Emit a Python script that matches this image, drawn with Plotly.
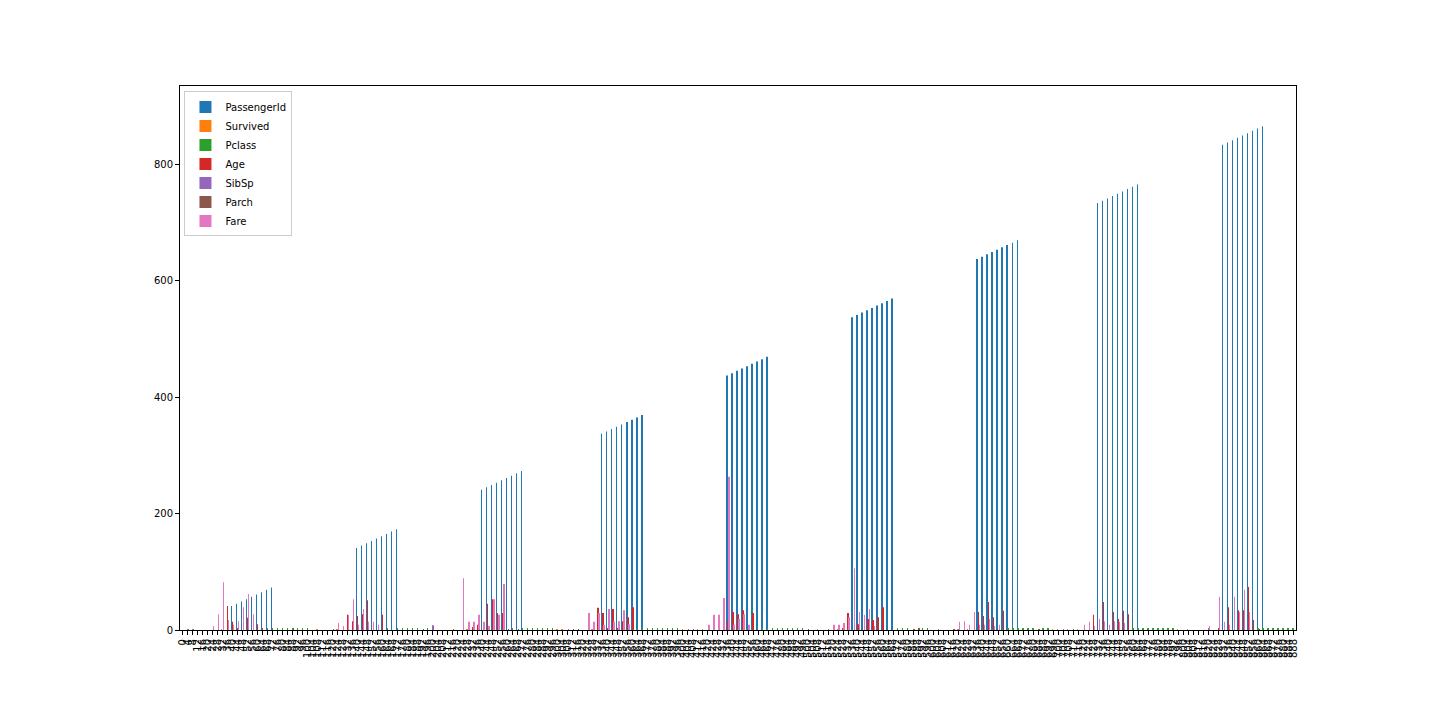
import plotly.graph_objects as go

# index of the plotted rows (every 4th passenger)
index_labels = [str(i) for i in range(0, 889, 4)]

columns = ["PassengerId", "Survived", "Pclass", "Age", "SibSp", "Parch", "Fare"]
colors = ["#1f77b4", "#ff7f0e", "#2ca02c", "#d62728", "#9467bd", "#8c564b", "#e377c2"]

# bars that can be seen in the picture: row position -> value
pid_rows = [10, 11, 12, 13, 14, 15, 16, 17, 18,
            35, 36, 37, 38, 39, 40, 41, 42, 43,
            60, 61, 62, 63, 64, 65, 66, 67, 68,
            84, 85, 86, 87, 88, 89, 90, 91, 92,
            109, 110, 111, 112, 113, 114, 115, 116, 117,
            134, 135, 136, 137, 138, 139, 140, 141, 142,
            159, 160, 161, 162, 163, 164, 165, 166, 167,
            183, 184, 185, 186, 187, 188, 189, 190, 191,
            208, 209, 210, 211, 212, 213, 214, 215, 216]
pid_vals = [41, 45, 49, 53, 57, 61, 65, 69, 73,
            141, 145, 149, 153, 157, 161, 165, 169, 173,
            241, 245, 249, 253, 257, 261, 265, 269, 273,
            337, 341, 345, 349, 353, 357, 361, 365, 369,
            437, 441, 445, 449, 453, 457, 461, 465, 469,
            537, 541, 545, 549, 553, 557, 561, 565, 569,
            637, 641, 645, 649, 653, 657, 661, 665, 669,
            733, 737, 741, 745, 749, 753, 757, 761, 765,
            833, 837, 841, 845, 849, 853, 857, 861, 865]

survived_rows = [8, 27, 31, 57, 75, 76, 82, 100, 103, 104, 127, 131, 155, 157, 174, 175, 177, 179, 199, 201]
survived_vals = [1, 1, 1, 1, 1, 1, 1, 1, 1, 1, 1, 1, 1, 1, 1, 1, 1, 1, 1, 1]

pclass_rows = [17, 18, 19, 20, 21, 22, 23, 24, 25, 41, 43, 44, 45, 46, 47, 49,
               66, 68, 69, 70, 71, 72, 73, 74, 91, 92, 93, 94, 95, 96, 97, 98, 99,
               116, 117, 118, 119, 120, 121, 122, 123, 124, 143, 144, 145, 148, 149, 165, 166, 167,
               168, 169, 170, 172, 173, 190, 191, 192, 193, 194, 195, 196, 197, 198,
               215, 216, 217, 218, 219, 220, 221, 222]
pclass_vals = [3, 3, 3, 3, 2, 3, 3, 3, 2, 3, 3, 3, 3, 3, 3, 3,
               3, 2, 2, 3, 3, 3, 3, 2, 3, 3, 3, 3, 2, 3, 3, 3, 3,
               2, 2, 3, 2, 3, 3, 2, 3, 3, 2, 3, 3, 3, 2, 3, 3, 2,
               2, 3, 2, 2, 3, 3, 3, 2, 2, 3, 3, 3, 3, 3,
               3, 3, 2, 2, 3, 2, 2, 2]

age_rows = [9, 10, 11, 13, 15, 16, 33, 34, 35, 36, 37, 40,
            58, 59, 61, 62, 63, 64, 83, 84, 85, 86, 87, 88, 89, 90,
            109, 110, 111, 112, 114, 132, 133, 135, 137, 138, 139, 140,
            159, 160, 161, 162, 164, 182, 184, 186, 187, 188, 189,
            207, 209, 211, 212, 213, 214]
age_vals = [41, 14, 3, 21, 10, 3, 26, 15, 24, 27, 51, 26,
            5, 9, 45, 53, 29, 29, 38, 29, 2, 36, 3, 15, 22, 39,
            14, 31, 27, 34, 29, 2, 29, 10, 19, 17, 22, 39,
            31, 24, 48, 22, 33, 26, 48, 31, 19, 33, 27,
            2, 39, 34, 34, 74, 17]

sibsp_rows = [1, 2, 50, 77, 81, 101, 102, 106, 129, 151, 155, 176, 178, 205]
sibsp_vals = [1, 1, 8, 1, 8, 1, 1, 1, 1, 1, 1, 1, 1, 2]

parch_rows = [2, 7, 22, 30, 48, 54, 57, 65, 67, 78, 79, 125, 146, 147, 154, 171, 215]
parch_vals = [1, 1, 2, 1, 1, 1, 1, 1, 1, 1, 1, 1, 1, 2, 1, 1, 1]

fare_rows = [6, 7, 8, 9, 10, 11, 12, 13, 14, 31, 32, 33, 34, 35, 36, 37, 38, 39,
             56, 57, 58, 59, 60, 61, 62, 63, 64, 81, 82, 83, 84, 85, 86, 87, 88, 89,
             105, 106, 107, 108, 109, 110, 111, 112, 113, 130, 131, 132, 133, 134, 135, 136, 137, 138,
             155, 156, 157, 158, 159, 160, 161, 162, 163, 180, 181, 182, 183, 184, 185, 186, 187, 188,
             205, 207, 208, 209, 210, 211, 212, 213]
fare_vals = [7, 27, 82, 17, 9, 15, 39, 62, 27, 12, 7, 26, 53, 9, 36, 14, 14, 9,
             89, 14, 14, 26, 14, 7, 53, 26, 79, 29, 14, 29, 9, 36, 14, 15, 34, 10,
             9, 26, 26, 55, 263, 9, 19, 27, 9, 9, 9, 12, 22, 106, 31, 26, 36, 7,
             14, 15, 9, 31, 9, 9, 19, 7, 9, 9, 14, 7, 19, 15, 9, 15, 14, 12,
             7, 57, 14, 9, 57, 31, 69, 31]

series = {
    "PassengerId": (pid_rows, pid_vals),
    "Survived": (survived_rows, survived_vals),
    "Pclass": (pclass_rows, pclass_vals),
    "Age": (age_rows, age_vals),
    "SibSp": (sibsp_rows, sibsp_vals),
    "Parch": (parch_rows, parch_vals),
    "Fare": (fare_rows, fare_vals),
}

n = len(index_labels)
xs = list(range(n))

fig = go.Figure()
for name, color in zip(columns, colors):
    rows, vals = series[name]
    y = [None] * n
    for r, v in zip(rows, vals):
        y[r] = v
    fig.add_trace(go.Bar(x=xs, y=y, name=name, marker_color=color, marker_line_width=0))

# the page adds 8px around the plot div, margins are shifted for that
fig.update_layout(
    width=1440, height=720,
    barmode="group", bargap=0.5, bargroupgap=0,
    plot_bgcolor="white", paper_bgcolor="white",
    margin=dict(l=172, r=152, t=78, b=98),
    font=dict(family="DejaVu Sans", size=10, color="black"),
    legend=dict(x=0.004, y=0.99, xanchor="left", yanchor="top",
                bgcolor="white", bordercolor="#cccccc", borderwidth=1,
                font=dict(size=10), tracegroupgap=0, itemwidth=30),
)
fig.update_xaxes(range=[-0.5, n - 0.5], tickmode="array", tickvals=xs, ticktext=index_labels,
                 tickangle=-90, ticks="outside", ticklen=4, tickcolor="black",
                 showline=True, mirror=True, linecolor="black", linewidth=1,
                 showgrid=False, zeroline=False, automargin=False)
fig.update_yaxes(range=[0, 934], tickvals=[0, 200, 400, 600, 800],
                 ticks="outside", ticklen=4, tickcolor="black",
                 showline=True, mirror=True, linecolor="black", linewidth=1,
                 showgrid=False, zeroline=False, automargin=False)

fig.write_html("out.html")
